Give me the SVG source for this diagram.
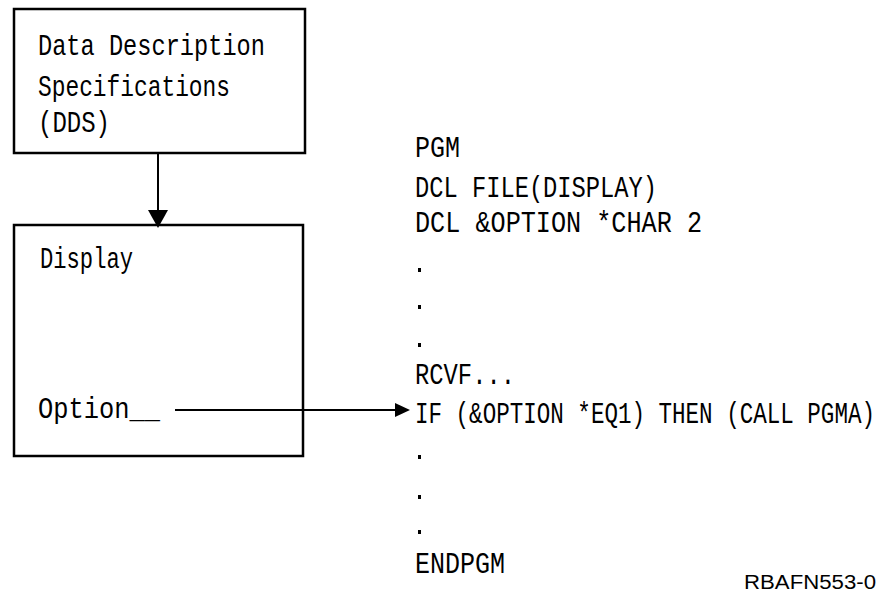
<svg xmlns="http://www.w3.org/2000/svg" width="882" height="594" viewBox="0 0 882 594">
<style>
.box{fill:#fff;stroke:#000;stroke-width:2.5}
.t{font-family:"Liberation Mono","DejaVu Sans Mono",monospace;font-size:22px;fill:#000}
.c{stroke:#000;stroke-width:2;fill:none}
.ah{fill:#000}
.id{font-family:"Liberation Sans",Arial,sans-serif;font-size:20px;fill:#000}
</style>
<rect width="882" height="594" fill="#fff"/>
<g id="dds">
<rect class="box" x="14" y="9" width="291" height="144"/>
<text class="t" transform="translate(38 55) scale(1 1.3)" textLength="227" lengthAdjust="spacingAndGlyphs">Data Description</text>
<text class="t" transform="translate(38 96) scale(1 1.3)" textLength="192" lengthAdjust="spacingAndGlyphs">Specifications</text>
<text class="t" transform="translate(38 132) scale(1 1.3)" textLength="72" lengthAdjust="spacingAndGlyphs">(DDS)</text>
</g>
<g id="display">
<rect class="box" x="14" y="225" width="289" height="231"/>
<text class="t" transform="translate(40 268) scale(1 1.3)" textLength="93" lengthAdjust="spacingAndGlyphs">Display</text>
<text class="t" transform="translate(38 418) scale(1 1.3)" textLength="122" lengthAdjust="spacingAndGlyphs">Option__</text>
</g>
<g id="program">
<text class="t" transform="translate(415 157) scale(1 1.3)" textLength="45" lengthAdjust="spacingAndGlyphs">PGM</text>
<text class="t" transform="translate(415 197) scale(1 1.3)" textLength="242" lengthAdjust="spacingAndGlyphs">DCL FILE(DISPLAY)</text>
<text class="t" transform="translate(415 232) scale(1 1.3)" textLength="287" lengthAdjust="spacingAndGlyphs">DCL &amp;OPTION *CHAR 2</text>
<rect x="418" y="268" width="3" height="4"/>
<rect x="418" y="305" width="3" height="4"/>
<rect x="418" y="343" width="3" height="4"/>
<text class="t" transform="translate(415 384) scale(1 1.3)" textLength="100" lengthAdjust="spacingAndGlyphs">RCVF...</text>
<text class="t" transform="translate(415 423) scale(1 1.3)" textLength="460" lengthAdjust="spacingAndGlyphs">IF (&amp;OPTION *EQ1) THEN (CALL PGMA)</text>
<rect x="418" y="455" width="3" height="4"/>
<rect x="418" y="495" width="3" height="4"/>
<rect x="418" y="530" width="3" height="4"/>
<text class="t" transform="translate(415 573) scale(1 1.3)" textLength="90" lengthAdjust="spacingAndGlyphs">ENDPGM</text>
</g>
<g id="connectors">
<line class="c" x1="158" y1="153" x2="158" y2="212"/>
<polygon class="ah" points="148,210 168,210 158,228"/>
<line class="c" x1="175" y1="410" x2="398" y2="410"/>
<polygon class="ah" points="395,403 395,417 410,410"/>
</g>
<text class="id" x="744" y="589" textLength="132" lengthAdjust="spacingAndGlyphs">RBAFN553-0</text>
</svg>
